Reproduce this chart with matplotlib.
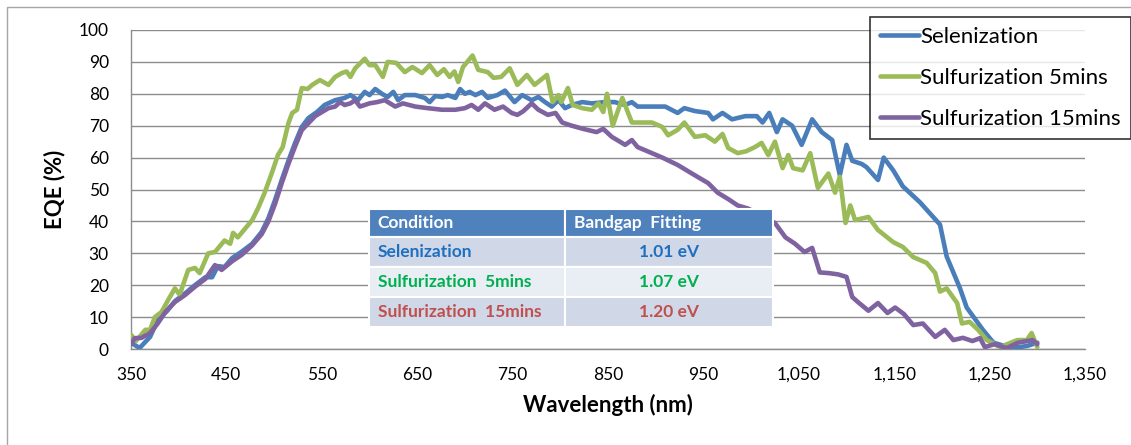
import numpy as np
import matplotlib
matplotlib.use('Agg')
import matplotlib.pyplot as plt
from matplotlib.table import Table
from matplotlib.patches import Rectangle
from matplotlib.ticker import FuncFormatter

plt.rcParams['font.family'] = ['Lato', 'DejaVu Sans']

# Selenization
wl_sel = [350, 359, 370, 378, 388, 396, 407, 417, 428, 435, 441, 448, 456, 466, 477, 487, 494, 501, 508, 515,
          522, 529, 536, 545, 553, 564, 574, 580, 588, 595, 600, 606, 613, 619, 625, 630, 637, 648, 658, 663,
          669, 676, 682, 690, 695, 700, 705, 711, 718, 724, 734, 742, 752, 760, 770, 777, 784, 791, 798, 805,
          812, 823, 833, 847, 857, 868, 875, 881, 896, 910, 923, 930, 941, 955, 960, 970, 980, 994, 1006, 1012,
          1019, 1027, 1033, 1043, 1053, 1064, 1074, 1085, 1093, 1100, 1106, 1116, 1121, 1133, 1139, 1149, 1159,
          1177, 1198, 1205, 1219, 1226, 1243, 1254, 1265, 1280, 1290, 1300]
eqe_sel = [2, 0.3, 3.8, 9, 12, 15, 17.5, 20, 22.5, 22.5, 26, 25.7, 28.5, 30.5, 33, 36.7, 41, 46.7, 53, 59,
           64.6, 69.6, 72.4, 74.3, 76.5, 78, 78.7, 79.6, 78, 80.6, 79.6, 81.5, 80, 79, 80.6, 78, 79.6, 79.6, 78.7, 77.4,
           79.3, 79, 79.6, 78.7, 81.5, 80, 80.6, 79.6, 80.6, 78.7, 79.6, 81, 77.4, 79.6, 78, 79, 77.4, 76, 78, 75.5,
           76.5, 77.4, 77, 77.4, 77.4, 76.5, 77.4, 76, 76, 76, 74, 75.5, 74.6, 74, 72, 74, 72, 73, 73, 71,
           74, 68, 72, 70, 64, 72, 68, 65.5, 54.5, 64, 59, 58, 57, 53, 60, 56, 51,
           46, 39, 29, 19, 13, 6, 2, 1, 0.5, 1, 2]

# Sulfurization 5mins
wl_s5 = [350, 355, 359, 365, 370, 375, 382, 389, 396, 401, 410, 417, 422, 431, 438, 448, 454, 457, 462, 477,
         483, 490, 498, 504, 509, 515, 519, 524, 529, 535, 540, 548, 557, 564, 571, 576, 580, 585, 595, 600,
         606, 614, 619, 628, 637, 645, 655, 663, 671, 678, 684, 689, 693, 698, 708, 714, 724, 730, 738, 747,
         755, 765, 773, 786, 792, 798, 801, 808, 813, 823, 833, 840, 845, 849, 855, 865, 875, 886, 896, 907,
         913, 923, 930, 941, 952, 962, 970, 976, 986, 995, 1004, 1011, 1018, 1025, 1033, 1039, 1044, 1054, 1062, 1070,
         1081, 1088, 1093, 1099, 1104, 1109, 1123, 1133, 1149, 1159, 1170, 1184, 1193, 1198, 1205, 1216, 1221, 1229, 1238, 1247,
         1261, 1279, 1289, 1294, 1300]
eqe_s5 = [4.5, 2.5, 3.8, 6, 6, 10, 11.6, 15.4, 19, 17, 24.8, 25.4, 23.8, 30, 30.4, 34, 33, 36.4, 35, 40.4,
          44, 48.9, 55.5, 60.8, 63.3, 70.8, 74, 75, 81.8, 81.5, 82.8, 84.3, 82.8, 85.3, 86.5, 87, 85.3, 88, 91, 89,
          89, 85.3, 90, 89.7, 86.8, 88.4, 86.5, 89, 85.9, 87.7, 85.3, 87, 83.7, 88.4, 92, 87.5, 86.8, 85, 85.3, 88,
          82.8, 85.9, 82.8, 85.9, 77.4, 79.6, 77.4, 81.8, 76.5, 75.5, 75, 77, 74.3, 80, 70, 78.7, 71, 71, 71, 69.6,
          67, 68.7, 71, 66.5, 67, 65, 67.4, 63, 61.4, 62, 63.3, 64.6, 60.8, 65, 56.7, 60.8, 56.7, 56, 61.4, 50.5,
          55, 49, 54, 39.5, 45, 40.4, 41.4, 37.3, 33.5, 32, 28.8, 27, 23.8, 18, 19, 14.4, 8, 8.5, 6, 2.8,
          0.6, 2.8, 2.8, 5, 0.6]

# Sulfurization 15mins
wl_s15 = [350, 354, 361, 370, 378, 386, 396, 407, 417, 428, 438, 445, 456, 466, 477, 487, 494, 501, 508, 515,
          522, 529, 543, 557, 564, 569, 574, 580, 585, 590, 600, 608, 616, 627, 635, 648, 661, 676, 690, 700,
          707, 714, 721, 731, 740, 749, 755, 761, 770, 777, 787, 795, 802, 812, 824, 838, 845, 854, 868, 875,
          881, 896, 907, 923, 938, 955, 965, 976, 986, 997, 1010, 1025, 1036, 1046, 1056, 1064, 1072, 1081, 1091, 1100,
          1106, 1112, 1123, 1133, 1143, 1151, 1160, 1170, 1180, 1193, 1203, 1212, 1222, 1232, 1240, 1245, 1255, 1268, 1280, 1290,
          1295, 1300]
eqe_s15 = [1.5, 3.4, 3.5, 5, 8, 11.6, 14.7, 17, 19.5, 22, 26.3, 24.8, 27.5, 29.5, 32.5, 36, 40, 45.5, 52, 58,
           63.5, 68.6, 73, 75.5, 76, 77.4, 76.5, 77, 78, 76, 77, 77.4, 78, 76, 77, 76, 75.5, 75, 75, 75.5,
           76.5, 75, 77, 75, 76, 74, 73.4, 74.5, 77, 75, 73.4, 74, 71, 70, 69, 68, 69, 66.5, 64, 65.5,
           63.3, 61.4, 60, 57.7, 55, 52, 49, 47, 45, 44, 42, 39.5, 35, 33, 30.4, 31.7, 24, 23.8, 23.4, 22.6,
           16.3, 14.7, 12, 14.4, 11.3, 13, 11, 7.5, 8, 3.8, 6, 2.8, 3.5, 2.5, 3.4, 0.6, 1.5, 0.3, 2, 2.5,
           2.8, 1.5]

series_names = ['Selenization', 'Sulfurization 5mins', 'Sulfurization 15mins']
series_colors = ['#4A7EBB', '#9BBB59', '#7F63A1']

table_conditions = ['Selenization', 'Sulfurization  5mins', 'Sulfurization  15mins']
table_bandgaps = ['1.01 eV', '1.07 eV', '1.20 eV']
table_text_colors = ['#1F6FC0', '#00B050', '#C0504D']

fig = plt.figure(figsize=(11.31, 4.45), dpi=100)
ax = fig.add_axes([131 / 1131, 96 / 445, 954 / 1131, 319 / 445])

for wl, eqe, name, col in zip([wl_sel, wl_s5, wl_s15], [eqe_sel, eqe_s5, eqe_s15], series_names, series_colors):
    ax.plot(wl, eqe, color=col, lw=3.3, label=name, solid_joinstyle='round', solid_capstyle='round', zorder=3)

ax.set_xlim(350, 1350)
ax.set_ylim(0, 100)
ax.set_xticks(np.arange(350, 1351, 100))
ax.set_yticks(np.arange(0, 101, 10))
ax.xaxis.set_major_formatter(FuncFormatter(lambda v, p: f'{int(v):,}'))
ax.tick_params(axis='both', length=0, labelsize=12.5)
ax.tick_params(axis='x', pad=13)
ax.tick_params(axis='y', pad=16)
ax.grid(axis='y', color='#8C8C8C', lw=1)
ax.set_axisbelow(True)
for s in ['top', 'right']:
    ax.spines[s].set_visible(False)
for s in ['left', 'bottom']:
    ax.spines[s].set_color('#8C8C8C')
    ax.spines[s].set_linewidth(1)

ax.set_xlabel('Wavelength (nm)', fontsize=16, fontweight='bold', labelpad=8)
ax.set_ylabel('EQE (%)', fontsize=16, fontweight='bold', labelpad=10)

leg = fig.legend(loc='upper left', bbox_to_anchor=(870 / 1131, 1 - 17 / 445), fontsize=16,
                 frameon=True, fancybox=False, edgecolor='black', borderaxespad=0,
                 handlelength=1.75, handletextpad=0.05, labelspacing=0.95, borderpad=0.45)
leg.get_frame().set_linewidth(1.2)

# table
tb = Table(ax, bbox=[(369 - 131) / 954, (349 - 327) / 319, (773 - 369) / 954, (327 - 209) / 319])
col_w = [196, 208]
row_h = [28, 30, 30, 30]
rows = [['Condition', 'Bandgap  Fitting']] + [[c, b] for c, b in zip(table_conditions, table_bandgaps)]
for r in range(4):
    for c in range(2):
        if r == 0:
            fc = '#4F81BD'
            loc = 'left'
            tc = 'white'
        else:
            fc = '#D0D8E8' if r % 2 == 1 else '#E9EDF4'
            loc = 'left' if c == 0 else 'center'
            tc = table_text_colors[r - 1]
        cell = tb.add_cell(r, c, col_w[c], row_h[r], text=rows[r][c], loc=loc, facecolor=fc, edgecolor='white')
        cell.PAD = 0.045
        cell.set_linewidth(1.5)
        cell.get_text().set_color(tc)
        cell.get_text().set_fontweight('bold')
tb.auto_set_font_size(False)
tb.set_fontsize(12.5)
tb.set_zorder(5)
ax.add_table(tb)

# outer chart border
fig.patches.append(Rectangle((7 / 1131, -0.1), 1.2, 1 - 7 / 445 + 0.1, transform=fig.transFigure,
                             fill=False, edgecolor='#A6A6A6', lw=1))

fig.savefig('out.png', dpi=100)
